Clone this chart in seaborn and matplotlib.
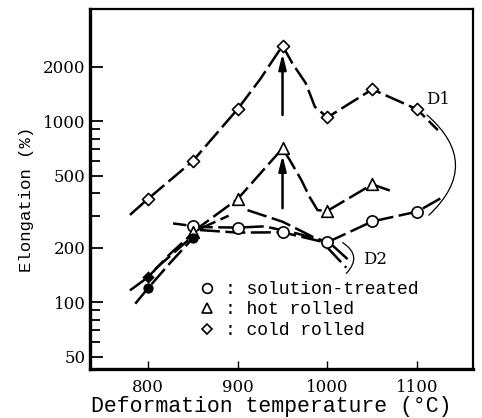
import numpy as np
import pandas as pd
import seaborn as sns
import matplotlib.pyplot as plt
from matplotlib.lines import Line2D
from matplotlib.ticker import FixedLocator, NullFormatter

# measured points (open symbols)
sol_temp = [850, 900, 950, 1000, 1050, 1100]
sol_elong = [263, 256, 243, 214, 279, 316]
hot_temp = [850, 900, 950, 1000, 1050]
hot_elong = [244, 371, 706, 319, 447]
cold_temp = [800, 850, 900, 950, 1000, 1050, 1100]
cold_elong = [371, 601, 1164, 2607, 1048, 1497, 1160]

# filled symbols
fcirc_temp = [800, 850]
fcirc_elong = [119, 225]
fdiam_temp = [800]
fdiam_elong = [137]

# hand drawn curves
cold_curve_t = [780, 800, 850, 900, 925, 950, 961, 976, 986, 1000, 1050, 1100, 1123]
cold_curve_e = [303, 371, 601, 1164, 1700, 2607, 2083, 1615, 1200, 1048, 1497, 1160, 891]
hot_curve_t = [850, 900, 950, 958, 971, 980, 989, 1000, 1050, 1074]
hot_curve_e = [244, 371, 706, 610, 472, 382, 322, 319, 447, 406]
sol_curve_t = [1000, 1050, 1100, 1126]
sol_curve_e = [214, 279, 316, 374]
mid_a_t = [850, 900, 930, 965, 1000]
mid_a_e = [260, 258, 262, 240, 216]
mid_b_t = [858, 900, 950, 1000]
mid_b_e = [250, 242, 243, 212]
diag_t = [911, 950, 991]
diag_e = [322, 278, 220]
branch_t = [855, 890]
branch_e = [250, 300]
low_c_t = [786, 800, 825, 850]
low_c_e = [98, 119, 165, 225]
low_d_t = [780, 800, 825, 850]
low_d_e = [116, 137, 185, 240]
low_m_t = [808, 845]
low_m_e = [152, 220]
stub_t = [828, 843]
stub_e = [272, 266]
d2a_t = [1000, 1021]
d2a_e = [200, 155]
d2b_t = [1006, 1024]
d2b_e = [205, 170]

yticks = [50, 100, 200, 500, 1000, 2000]
yminor = [60, 70, 80, 90, 300, 400, 600, 700, 800, 900]
xticks = [800, 900, 1000, 1100]

fig = plt.figure(figsize=(4.82, 4.18), dpi=100)
ax = fig.add_axes([0.1857, 0.1172, 0.7953, 0.8613])

dash = (0, (8, 2.2))
curves = [(cold_curve_t, cold_curve_e), (hot_curve_t, hot_curve_e),
          (sol_curve_t, sol_curve_e), (mid_a_t, mid_a_e), (mid_b_t, mid_b_e),
          (diag_t, diag_e), (branch_t, branch_e), (low_c_t, low_c_e),
          (low_d_t, low_d_e), (low_m_t, low_m_e), (stub_t, stub_e),
          (d2a_t, d2a_e), (d2b_t, d2b_e)]
for t, e in curves:
    sns.lineplot(x=t, y=e, ax=ax, color="black", lw=1.8, linestyle=dash,
                 estimator=None, sort=False, zorder=2)

# symbols
sns.scatterplot(x=sol_temp, y=sol_elong, ax=ax, marker="o", s=65,
                facecolor="white", edgecolor="black", linewidth=1.2, zorder=4)
sns.scatterplot(x=hot_temp, y=hot_elong, ax=ax, marker="^", s=70,
                facecolor="white", edgecolor="black", linewidth=1.2, zorder=4)
sns.scatterplot(x=cold_temp, y=cold_elong, ax=ax, marker="D", s=38,
                facecolor="white", edgecolor="black", linewidth=1.2, zorder=4)
sns.scatterplot(x=fcirc_temp, y=fcirc_elong, ax=ax, marker="o", s=55,
                color="black", linewidth=0, zorder=4)
sns.scatterplot(x=fdiam_temp, y=fdiam_elong, ax=ax, marker="D", s=40,
                color="black", linewidth=0, zorder=4)

# arrows at 950 C
head = dict(arrowstyle="-|>,head_length=0.9,head_width=0.22", lw=1.8,
            color="black", shrinkA=0, shrinkB=0)
ax.annotate("", xy=(950, 2366), xytext=(950, 1080), arrowprops=head)
ax.annotate("", xy=(950, 649), xytext=(950, 330), arrowprops=head)

# brackets D1 / D2
ax.annotate("", xy=(1113, 302), xytext=(1111, 1080),
            arrowprops=dict(arrowstyle="-", lw=0.9, color="black",
                            connectionstyle="arc3,rad=-0.55", shrinkA=0, shrinkB=0))
ax.annotate("", xy=(1021, 144), xytext=(1017, 213),
            arrowprops=dict(arrowstyle="-", lw=0.9, color="black",
                            connectionstyle="arc3,rad=-0.6", shrinkA=0, shrinkB=0))
ax.text(1123, 1323, "D1", family="DejaVu Serif", fontsize=12,
        ha="center", va="center")
ax.text(1053, 172, "D2", family="DejaVu Serif", fontsize=12,
        ha="center", va="center")

ax.set_yscale("log")
ax.set_xlim(735, 1162)
ax.set_ylim(42.7, 4159)
ax.yaxis.set_major_locator(FixedLocator(yticks))
ax.yaxis.set_minor_locator(FixedLocator(yminor))
ax.yaxis.set_minor_formatter(NullFormatter())
ax.set_yticklabels([str(v) for v in yticks])
ax.set_xticks(xticks)
ax.set_xticklabels([str(v) for v in xticks])
for lab in ax.get_xticklabels() + ax.get_yticklabels():
    lab.set_family("DejaVu Serif")
    lab.set_fontsize(12)
ax.tick_params(axis="y", which="major", direction="in", length=9, width=1.3, pad=3)
ax.tick_params(axis="y", which="minor", direction="in", length=7, width=1.3)
ax.tick_params(axis="x", direction="in", length=6, width=1.0, pad=7)
for side in ["left", "bottom"]:
    ax.spines[side].set_linewidth(2.4)
for side in ["top", "right"]:
    ax.spines[side].set_linewidth(1.6)

ax.set_xlabel("Deformation temperature (°C)", family="Liberation Mono",
              fontsize=15.5)
ax.xaxis.set_label_coords(0.473, -0.076, transform=ax.transAxes)
ax.set_ylabel("Elongation (%)", family="Liberation Mono", fontsize=12.5)
ax.yaxis.set_label_coords(-0.145, 0.47)

handles = [Line2D([], [], ls="", marker="o", ms=7, mfc="white", mec="black", mew=1.2),
           Line2D([], [], ls="", marker="^", ms=7.5, mfc="white", mec="black", mew=1.2),
           Line2D([], [], ls="", marker="D", ms=5.5, mfc="white", mec="black", mew=1.2)]
ax.legend(handles, [": solution-treated", ": hot rolled", ": cold rolled"],
          loc="upper left", bbox_to_anchor=(0.265, 0.265), frameon=False,
          prop=dict(family="Liberation Mono", size=13), handlelength=1.0,
          handletextpad=0.5, labelspacing=0.2, borderaxespad=0)

fig.savefig("out.png", dpi=100)
